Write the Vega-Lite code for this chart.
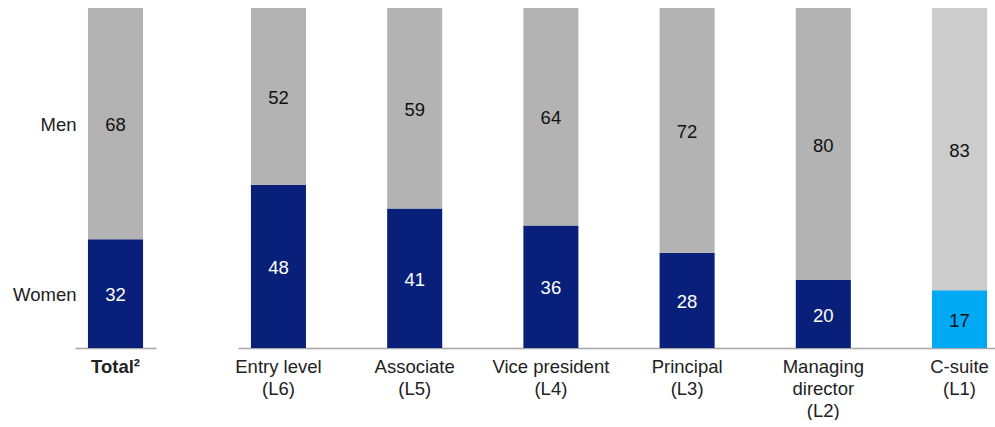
{
  "$schema": "https://vega.github.io/schema/vega-lite/v6.json",
  "padding": {"left": 13, "top": 8, "right": 0, "bottom": 0},
  "bounds": "flush",
  "spacing": 82,
  "config": {
    "view": {"stroke": null},
    "font": "Liberation Sans",
    "axisX": {
      "domain": true, "domainColor": "#a6a6a6", "domainWidth": 1.5,
      "ticks": false, "labelFontSize": 18.5, "labelColor": "#222222",
      "labelAngle": 0, "labelPadding": 9, "labelLineHeight": 22,
      "labelLimit": 300, "labelOverlap": false, "title": null, "grid": false
    }
  },
  "datasets": {
    "rows": [
      {"panel": "Total", "level": "Total²", "gender": "Women", "value": 32},
      {"panel": "Total", "level": "Total²", "gender": "Men", "value": 68},
      {"panel": "Levels", "level": "Entry level\n(L6)", "gender": "Women", "value": 48},
      {"panel": "Levels", "level": "Entry level\n(L6)", "gender": "Men", "value": 52},
      {"panel": "Levels", "level": "Associate\n(L5)", "gender": "Women", "value": 41},
      {"panel": "Levels", "level": "Associate\n(L5)", "gender": "Men", "value": 59},
      {"panel": "Levels", "level": "Vice president\n(L4)", "gender": "Women", "value": 36},
      {"panel": "Levels", "level": "Vice president\n(L4)", "gender": "Men", "value": 64},
      {"panel": "Levels", "level": "Principal\n(L3)", "gender": "Women", "value": 28},
      {"panel": "Levels", "level": "Principal\n(L3)", "gender": "Men", "value": 72},
      {"panel": "Levels", "level": "Managing\ndirector\n(L2)", "gender": "Women", "value": 20},
      {"panel": "Levels", "level": "Managing\ndirector\n(L2)", "gender": "Men", "value": 80},
      {"panel": "Levels", "level": "C-suite\n(L1)", "gender": "Women", "value": 17},
      {"panel": "Levels", "level": "C-suite\n(L1)", "gender": "Men", "value": 83}
    ]
  },
  "hconcat": [
    {
      "width": 81,
      "height": 340,
      "data": {"name": "rows"},
      "transform": [{"filter": "datum.panel === 'Total'"}],
      "encoding": {
        "x": {
          "field": "level", "type": "nominal", "sort": null,
          "scale": {"paddingInner": 0.596, "paddingOuter": 0.095},
          "axis": {"labelFontWeight": "bold", "labelExpr": "split(datum.label, '\\n')"}
        },
        "detail": {"field": "gender"},
        "order": {"field": "gender", "sort": "descending"}
      },
      "layer": [
        {
          "mark": {"type": "bar"},
          "encoding": {
            "y": {"field": "value", "type": "quantitative", "stack": "zero", "scale": {"domain": [0, 100]}, "axis": null},
            "color": {
              "condition": [{"test": "datum.gender === 'Women'", "value": "#08207a"}],
              "value": "#b3b3b3"
            }
          }
        },
        {
          "mark": {"type": "text", "fontSize": 18.5, "baseline": "middle", "dy": 1.5},
          "encoding": {
            "y": {"field": "value", "type": "quantitative", "stack": "zero", "bandPosition": 0.5},
            "text": {"field": "value", "type": "quantitative"},
            "color": {
              "condition": [{"test": "datum.gender === 'Women'", "value": "#ffffff"}],
              "value": "#111111"
            }
          }
        },
        {
          "mark": {"type": "text", "fontSize": 18.5, "baseline": "middle", "dy": 1.5, "align": "right", "dx": -39, "color": "#222222"},
          "encoding": {
            "y": {"field": "value", "type": "quantitative", "stack": "zero", "bandPosition": 0.5},
            "text": {"field": "gender", "type": "nominal"}
          }
        }
      ]
    },
    {
      "width": 762,
      "height": 340,
      "data": {"name": "rows"},
      "transform": [{"filter": "datum.panel === 'Levels'"}],
      "encoding": {
        "x": {
          "field": "level", "type": "nominal", "sort": null,
          "scale": {"paddingInner": 0.596, "paddingOuter": 0.095},
          "axis": {"labelExpr": "split(datum.label, '\\n')"}
        },
        "detail": {"field": "gender"},
        "order": {"field": "gender", "sort": "descending"}
      },
      "layer": [
        {
          "mark": {"type": "bar"},
          "encoding": {
            "y": {"field": "value", "type": "quantitative", "stack": "zero", "scale": {"domain": [0, 100]}, "axis": null},
            "color": {
              "condition": [
                {"test": "indexof(datum.level, 'C-suite') === 0 && datum.gender === 'Women'", "value": "#00a9f4"},
                {"test": "indexof(datum.level, 'C-suite') === 0", "value": "#cccccc"},
                {"test": "datum.gender === 'Women'", "value": "#08207a"}
              ],
              "value": "#b3b3b3"
            }
          }
        },
        {
          "mark": {"type": "text", "fontSize": 18.5, "baseline": "middle", "dy": 1.5},
          "encoding": {
            "y": {"field": "value", "type": "quantitative", "stack": "zero", "bandPosition": 0.5},
            "text": {"field": "value", "type": "quantitative"},
            "color": {
              "condition": [
                {"test": "indexof(datum.level, 'C-suite') === 0", "value": "#111111"},
                {"test": "datum.gender === 'Women'", "value": "#ffffff"}
              ],
              "value": "#111111"
            }
          }
        }
      ]
    }
  ]
}
